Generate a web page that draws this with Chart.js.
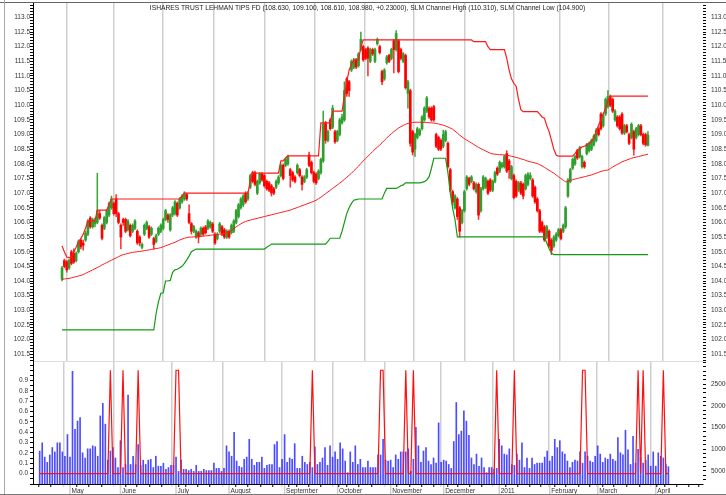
<!DOCTYPE html>
<html><head><meta charset="utf-8">
<script src="https://cdn.jsdelivr.net/npm/chart.js@4.4.0/dist/chart.umd.min.js"></script>
<style>
html,body{margin:0;padding:0;background:#fff;}
#wrap{position:relative;width:726px;height:495px;overflow:hidden;background:#fff;}
#top{position:absolute;left:0;top:0;}
#bot{position:absolute;left:0;top:362px;}
.frame{position:absolute;}
</style></head><body>
<div id="wrap">
<canvas id="top" width="726" height="362"></canvas>
<canvas id="bot" width="726" height="133"></canvas>
<div class="frame" style="left:0;top:2px;width:726px;height:1px;background:#666"></div>
<div class="frame" style="left:4px;top:0;width:1px;height:495px;background:#aaa"></div>
<div class="frame" style="left:0;top:494px;width:726px;height:1px;background:#777"></div>
</div>
<script>
const titleText = 'ISHARES TRUST LEHMAN TIPS FD (108.630, 109.100, 108.610, 108.980, +0.23000), SLM Channel High (110.310), SLM Channel Low (104.900)';

// trading days (categories); the April entries after the 8th are empty future slots
const tradingDays = [
 [2010,4,[15,16,19,20,21,22,23,26,27,28,29,30]],
 [2010,5,[3,4,5,6,7,10,11,12,13,14,17,18,19,20,21,24,25,26,27,28]],
 [2010,6,[1,2,3,4,7,8,9,10,11,14,15,16,17,18,21,22,23,24,25,28,29,30]],
 [2010,7,[1,2,6,7,8,9,12,13,14,15,16,19,20,21,22,23,26,27,28,29,30]],
 [2010,8,[2,3,4,5,6,9,10,11,12,13,16,17,18,19,20,23,24,25,26,27,30,31]],
 [2010,9,[1,2,3,7,8,9,10,13,14,15,16,17,20,21,22,23,24,27,28,29,30]],
 [2010,10,[1,4,5,6,7,8,11,12,13,14,15,18,19,20,21,22,25,26,27,28,29]],
 [2010,11,[1,2,3,4,5,8,9,10,11,12,15,16,17,18,19,22,23,24,26,29,30]],
 [2010,12,[1,2,3,6,7,8,9,10,13,14,15,16,17,20,21,22,23,27,28,29,30,31]],
 [2011,1,[3,4,5,6,7,10,11,12,13,14,18,19,20,21,24,25,26,27,28,31]],
 [2011,2,[1,2,3,4,7,8,9,10,11,14,15,16,17,18,22,23,24,25,28]],
 [2011,3,[1,2,3,4,7,8,9,10,11,14,15,16,17,18,21,22,23,24,25,28,29,30,31]],
 [2011,4,[1,4,5,6,7,8,11,12,13,14,15,18,19,20,21,25,26]]
];
const monthLabels = {5:'May',6:'June',7:'July',8:'August',9:'September',10:'October',11:'November',12:'December',1:'2011',2:'February',3:'March',4:'April'};

const open = [
104.06,104.7,104.66,104.45,105.0,104.95,104.7,105.0,105.4,105.3,
105.4,105.6,106.15,105.85,105.95,106.0,106.3,105.9,105.8,106.0,
106.25,106.5,106.65,106.8,106.3,105.9,106.1,106.1,105.75,105.9,
105.7,105.8,105.7,105.5,105.15,105.6,105.8,105.85,105.6,105.45,
105.35,105.6,105.7,105.8,106.1,106.25,105.75,106.26,106.3,106.65,
106.5,106.7,106.8,106.95,106.3,105.96,105.7,105.5,105.65,105.6,
105.8,105.85,105.8,105.85,105.95,105.6,105.45,105.7,105.85,105.75,
105.5,105.7,105.65,105.7,106.0,106.2,106.5,106.6,107.0,106.8,
107.2,107.7,107.7,107.0,107.35,107.65,107.6,107.4,107.35,107.25,
107.15,107.2,107.35,107.6,107.95,107.95,108.0,107.8,107.7,107.55,
107.7,107.8,107.55,107.4,107.55,108.3,108.05,107.7,107.65,107.5,
107.7,108.1,109.4,108.8,109.5,109.25,109.1,108.8,109.0,109.4,
109.5,110.9,110.8,111.2,111.3,111.55,111.35,111.9,112.0,111.9,
111.95,111.5,111.9,111.5,112.1,112.0,111.15,110.9,111.45,111.7,
111.6,112.2,111.9,112.2,111.9,111.5,111.7,110.4,110.5,109.1,
108.5,108.9,109.0,109.2,109.5,109.8,109.9,109.9,109.95,109.0,
108.9,108.8,108.6,108.8,108.7,107.8,107.05,106.5,106.8,106.5,
106.0,106.4,107.15,107.5,107.4,107.35,107.05,107.3,106.4,107.15,
107.2,107.4,107.45,107.1,107.4,107.85,107.75,107.9,107.9,108.35,
108.1,107.5,107.6,107.4,107.1,107.35,107.3,107.15,107.3,107.5,
107.45,107.2,106.8,106.4,106.0,105.85,105.5,105.7,105.4,105.2,
105.4,105.55,105.75,105.7,105.85,106.9,107.4,107.85,108.0,108.45,
108.25,107.9,108.05,108.35,108.45,108.5,108.65,108.8,109.2,109.7,
109.3,109.7,109.95,110.3,110.2,109.5,109.6,109.6,109.7,109.05,
109.3,109.0,108.9,109.1,108.9,109.0,109.3,109.0,109.0,108.63];
const close = [
104.44,104.5,104.38,104.7,104.6,104.65,104.95,105.34,105.17,105.22,
105.63,106.05,105.85,106.1,106.05,106.4,106.15,105.46,106.17,106.4,
106.65,106.8,106.3,106.3,106.0,105.5,106.0,105.7,106.05,105.55,
105.9,106.05,105.3,105.3,105.25,105.9,106.0,105.5,105.8,105.25,
105.55,105.8,105.9,106.1,106.4,106.1,106.26,106.5,106.7,106.25,
106.8,106.9,107.0,106.8,106.0,105.7,105.85,105.7,105.5,105.8,
105.6,105.65,106.05,106.0,105.7,105.3,105.6,105.95,105.6,105.5,
105.7,105.5,105.9,106.05,106.4,106.6,106.8,106.9,106.7,107.0,
107.6,107.4,107.3,107.4,107.65,107.45,107.25,107.15,107.1,107.0,
107.0,107.4,107.55,107.95,107.5,108.15,108.25,107.6,107.45,107.4,
107.95,107.6,107.3,107.55,107.8,107.95,107.7,107.4,107.35,107.75,
108.15,109.35,108.8,109.1,109.2,109.9,108.75,109.1,109.5,109.6,
110.5,110.4,110.5,111.5,111.55,111.3,111.75,112.25,111.55,111.6,
111.6,111.9,111.75,111.9,112.25,111.8,110.8,111.2,111.65,111.5,
111.9,111.9,112.45,111.15,111.6,111.75,110.6,110.8,108.7,108.4,
109.0,109.2,109.15,109.6,109.9,110.25,109.6,109.5,109.5,108.6,
108.5,108.5,109.0,109.1,107.9,107.1,106.7,106.9,106.2,105.7,
106.4,107.05,107.55,107.3,107.55,107.15,107.3,106.25,107.15,107.55,
107.5,107.0,107.1,107.4,107.7,107.65,108.05,108.0,108.25,107.75,
107.8,107.9,106.85,106.9,107.35,107.0,106.9,107.6,107.65,107.6,
106.9,106.7,106.4,105.7,105.7,105.4,105.85,105.2,105.05,105.5,
105.6,105.75,105.45,105.9,106.5,107.45,107.8,108.15,108.25,108.2,
108.55,108.25,107.9,108.65,108.7,108.8,108.95,109.15,109.0,109.2,
109.65,110.2,110.3,110.0,109.8,109.8,109.3,109.2,109.05,109.3,
109.1,108.7,109.35,108.5,109.2,109.3,109.0,108.7,108.65,108.98];
const high = [
104.5,104.75,104.7,104.75,105.05,105.1,105.0,105.4,105.45,105.4,
105.7,106.1,106.2,106.15,106.15,107.68,106.4,105.95,106.2,106.45,
106.7,106.9,106.7,106.95,106.35,105.95,106.15,106.15,106.1,105.95,
105.95,106.1,105.75,105.55,105.3,105.95,106.05,105.9,105.85,105.5,
105.6,105.85,105.95,106.15,106.45,106.3,106.3,106.55,106.75,106.7,
106.85,106.95,107.05,107.0,106.6,106.0,105.9,105.75,105.7,105.85,
105.85,105.9,106.1,106.05,106.0,105.65,105.65,106.0,105.9,105.8,
105.75,105.75,105.95,106.1,106.45,106.65,106.85,106.95,107.05,107.05,
107.65,107.75,107.75,107.45,107.7,107.7,107.65,107.45,107.4,107.3,
107.2,107.45,107.6,108.0,108.0,108.2,108.3,107.85,107.75,107.6,
108.0,107.85,107.6,107.6,107.85,108.4,108.1,107.75,107.7,107.8,
108.2,109.8,109.45,109.15,109.55,110.0,109.15,109.15,109.55,109.7,
110.8,110.95,110.85,111.55,111.6,111.6,111.8,112.5,112.05,111.95,
112.0,111.95,111.95,111.95,112.3,112.05,111.2,111.25,111.7,111.75,
111.95,112.25,112.55,112.25,111.95,111.8,111.75,110.85,110.55,109.15,
109.05,109.25,109.2,109.65,109.95,110.3,109.95,109.95,110.0,109.05,
108.95,108.85,109.15,109.15,108.75,107.85,107.1,106.95,106.85,106.55,
106.45,107.1,107.6,107.55,107.6,107.4,107.35,107.35,107.2,107.6,
107.55,107.45,107.5,107.45,107.75,107.9,108.1,108.05,108.3,108.45,
108.15,107.95,107.65,107.45,107.4,107.4,107.35,107.65,107.7,107.7,
107.5,107.25,106.85,106.45,106.05,105.9,105.9,105.75,105.45,105.55,
105.65,105.8,105.8,105.95,106.55,107.5,107.85,108.2,108.3,108.5,
108.6,108.3,108.1,108.7,108.75,108.85,109.0,109.2,109.25,109.75,
109.7,110.25,110.5,110.35,110.25,109.85,109.65,109.65,109.75,109.35,
109.35,109.05,109.4,109.15,109.25,109.35,109.35,109.05,109.05,109.1];
const low = [
104.0,104.45,104.3,104.4,104.55,104.6,104.65,104.95,105.1,105.05,
105.35,105.55,105.8,105.8,105.85,105.95,106.1,105.4,105.75,105.95,
106.2,106.45,106.25,106.2,105.95,105.1,105.9,105.65,105.7,105.5,
105.65,105.75,105.25,105.2,105.1,105.55,105.75,105.45,105.55,105.1,
105.3,105.55,105.65,105.75,106.05,106.0,105.7,106.2,106.25,106.2,
106.45,106.65,106.75,106.75,105.95,105.6,105.65,105.45,105.3,105.55,
105.55,105.6,105.75,105.8,105.65,105.25,105.4,105.65,105.55,105.45,
105.45,105.45,105.6,105.65,105.95,106.15,106.45,106.55,106.65,106.75,
107.15,107.35,107.25,106.95,107.3,107.4,107.2,107.1,107.05,106.9,
106.95,107.15,107.3,107.55,107.45,107.9,107.95,107.2,107.4,107.35,
107.65,107.55,107.1,107.35,107.5,107.9,107.65,107.35,107.3,107.45,
107.65,108.05,108.7,108.75,109.15,109.2,108.7,108.75,108.95,109.35,
109.45,110.3,110.3,111.15,111.25,111.25,111.3,111.85,111.5,111.55,
111.0,111.45,111.7,111.45,112.05,111.75,110.7,110.85,111.4,111.45,
111.55,111.1,111.85,111.1,111.55,111.45,110.55,109.9,108.6,108.3,
108.25,108.85,108.95,109.15,109.45,109.75,109.55,109.45,109.45,108.55,
108.45,108.45,108.55,108.75,107.85,107.05,106.6,106.45,106.1,105.5,
105.95,106.35,107.1,107.25,107.35,107.1,107.0,106.1,106.35,107.1,
107.15,106.95,107.05,107.05,107.35,107.6,107.7,107.85,107.85,107.7,
107.5,107.45,106.8,106.85,107.05,106.95,106.8,107.1,107.25,107.45,
106.85,106.65,106.35,105.65,105.65,105.35,105.45,105.15,104.9,105.15,
105.35,105.5,105.4,105.65,105.8,106.85,107.35,107.8,107.95,108.15,
108.2,107.85,107.85,108.3,108.4,108.45,108.6,108.75,108.95,109.15,
109.25,109.65,109.9,109.95,109.75,109.45,109.25,109.15,109.0,109.0,
109.05,108.65,108.85,108.3,108.85,108.95,108.95,108.65,108.6,108.61];

const channelHigh = [
105.2,105.0,104.82,104.8,104.8,105.0,105.15,105.35,105.45,105.6,
105.8,106.05,106.05,106.05,106.05,106.42,106.42,106.42,106.42,106.42,
106.6,106.8,106.8,106.8,106.8,106.8,106.8,106.8,106.8,106.8,
106.8,106.8,106.8,106.8,106.8,106.8,106.8,106.8,106.8,106.8,
106.8,106.8,106.8,106.8,106.8,106.8,106.8,106.8,106.8,106.8,
106.8,106.9,107.0,107.0,107.0,107.0,107.0,107.0,107.0,107.0,
107.0,107.0,107.0,107.0,107.0,107.0,107.0,107.0,107.0,107.0,
107.0,107.0,107.0,107.0,107.0,107.0,107.0,107.0,107.0,107.0,
107.4,107.68,107.68,107.68,107.68,107.68,107.68,107.68,107.68,107.68,
107.68,107.68,107.68,108.1,108.1,108.2,108.27,108.27,108.27,108.27,
108.27,108.27,108.27,108.27,108.27,108.27,108.27,108.27,108.27,108.27,
109.4,109.4,109.4,109.4,109.4,109.8,109.8,109.8,109.8,109.8,
110.3,110.8,111.2,111.4,111.54,111.54,111.54,112.0,112.23,112.23,
112.23,112.23,112.23,112.23,112.23,112.23,112.23,112.23,112.23,112.23,
112.23,112.23,112.23,112.23,112.23,112.23,112.23,112.23,112.23,112.23,
112.23,112.23,112.23,112.23,112.23,112.23,112.23,112.23,112.23,112.23,
112.23,112.23,112.23,112.23,112.23,112.23,112.23,112.23,112.23,112.23,
112.23,112.23,112.23,112.23,112.23,112.17,112.17,112.17,112.17,112.17,
112.17,112.0,111.9,111.9,111.9,111.9,111.9,111.9,111.9,111.6,
111.2,110.9,110.75,110.65,110.2,109.85,109.78,109.78,109.78,109.78,
109.78,109.78,109.78,109.7,109.6,109.56,109.3,109.1,108.8,108.5,
108.3,108.26,108.26,108.26,108.26,108.26,108.26,108.26,108.35,108.47,
108.5,108.58,108.6,108.65,108.7,108.75,108.9,109.1,109.32,109.5,
109.7,109.9,110.15,110.31,110.31,110.31,110.31,110.31,110.31,110.31,
110.31,110.31,110.31,110.31,110.31,110.31,110.31,110.31,110.31,110.31];
const channelLow = [
102.33,102.33,102.33,102.33,102.33,102.33,102.33,102.33,102.33,102.33,
102.33,102.33,102.33,102.33,102.33,102.33,102.33,102.33,102.33,102.33,
102.33,102.33,102.33,102.33,102.33,102.33,102.33,102.33,102.33,102.33,
102.33,102.33,102.33,102.33,102.33,102.33,102.33,102.33,102.33,102.33,
102.9,103.3,103.58,103.6,104.0,104.0,104.02,104.3,104.38,104.4,
104.45,104.5,104.6,104.72,104.85,105.0,105.05,105.09,105.09,105.09,
105.09,105.09,105.09,105.09,105.09,105.09,105.09,105.09,105.09,105.09,
105.09,105.09,105.09,105.09,105.09,105.09,105.09,105.09,105.09,105.09,
105.09,105.09,105.09,105.09,105.09,105.09,105.09,105.15,105.2,105.26,
105.26,105.26,105.26,105.26,105.26,105.26,105.26,105.26,105.26,105.26,
105.26,105.26,105.26,105.26,105.26,105.26,105.26,105.26,105.26,105.26,
105.26,105.26,105.26,105.35,105.46,105.46,105.46,105.46,105.46,105.7,
106.0,106.3,106.5,106.65,106.76,106.78,106.8,106.8,106.8,106.8,
106.8,106.8,106.8,106.8,106.8,106.8,106.8,107.0,107.16,107.16,
107.16,107.16,107.16,107.2,107.25,107.28,107.35,107.35,107.35,107.35,
107.35,107.35,107.35,107.37,107.39,107.45,107.56,107.85,108.19,108.19,
108.19,108.19,108.19,108.19,107.7,107.0,106.48,106.1,105.51,105.51,
105.51,105.51,105.51,105.51,105.51,105.51,105.51,105.51,105.51,105.51,
105.51,105.51,105.51,105.51,105.51,105.51,105.51,105.51,105.51,105.51,
105.51,105.51,105.51,105.51,105.51,105.51,105.51,105.51,105.51,105.51,
105.51,105.51,105.51,105.51,105.51,105.51,105.3,105.1,104.95,104.9,
104.9,104.9,104.9,104.9,104.9,104.9,104.9,104.9,104.9,104.9,
104.9,104.9,104.9,104.9,104.9,104.9,104.9,104.9,104.9,104.9,
104.9,104.9,104.9,104.9,104.9,104.9,104.9,104.9,104.9,104.9,
104.9,104.9,104.9,104.9,104.9,104.9,104.9,104.9,104.9,104.9];
const movingAvg = [
104.06,104.07,104.08,104.09,104.11,104.13,104.15,104.17,104.19,104.22,
104.26,104.3,104.34,104.38,104.42,104.46,104.5,104.55,104.59,104.63,
104.67,104.71,104.75,104.79,104.83,104.87,104.9,104.92,104.94,104.96,
104.98,104.99,105.0,105.01,105.02,105.04,105.05,105.06,105.08,105.09,
105.11,105.12,105.14,105.17,105.2,105.23,105.26,105.29,105.32,105.36,
105.4,105.43,105.46,105.48,105.5,105.5,105.51,105.51,105.52,105.52,
105.53,105.54,105.55,105.56,105.57,105.58,105.59,105.6,105.61,105.62,
105.64,105.68,105.73,105.79,105.85,105.9,105.95,106.0,106.03,106.06,
106.08,106.1,106.12,106.14,106.16,106.18,106.2,106.22,106.24,106.26,
106.28,106.3,106.32,106.34,106.36,106.38,106.4,106.42,106.45,106.48,
106.51,106.54,106.57,106.6,106.63,106.66,106.69,106.72,106.76,106.81,
106.86,106.92,106.98,107.04,107.1,107.16,107.22,107.28,107.34,107.4,
107.47,107.54,107.61,107.68,107.76,107.84,107.92,108.01,108.1,108.18,
108.26,108.34,108.42,108.5,108.57,108.64,108.72,108.8,108.88,108.96,
109.03,109.1,109.16,109.22,109.27,109.31,109.35,109.38,109.4,109.41,
109.42,109.42,109.42,109.42,109.41,109.41,109.4,109.4,109.39,109.38,
109.36,109.34,109.32,109.29,109.26,109.22,109.18,109.12,109.05,108.98,
108.92,108.86,108.81,108.76,108.71,108.66,108.61,108.56,108.52,108.48,
108.44,108.4,108.36,108.34,108.33,108.32,108.31,108.31,108.3,108.3,
108.28,108.26,108.24,108.22,108.2,108.17,108.15,108.12,108.09,108.07,
108.05,108.03,108.01,107.97,107.93,107.88,107.83,107.78,107.73,107.68,
107.62,107.56,107.5,107.44,107.39,107.4,107.43,107.46,107.48,107.5,
107.52,107.54,107.56,107.58,107.6,107.62,107.65,107.68,107.71,107.74,
107.76,107.78,107.79,107.84,107.89,107.94,107.98,108.02,108.07,108.1,
108.13,108.16,108.19,108.21,108.23,108.25,108.27,108.29,108.31,108.33];

const volume = [
9600,11500,8200,7000,8700,10400,9400,11500,11500,9400,
8400,13400,8200,28000,14600,16500,17300,9200,8000,10100,
10100,10800,10600,8400,17700,20600,15800,7500,9600,10400,
8000,5800,12000,5800,6500,22500,6500,8400,6500,11100,
6300,7500,6500,7500,7700,5800,8400,6100,6100,6800,
5400,5800,6300,6300,8200,4900,7500,5400,5400,5100,
5400,4900,6300,4900,4900,5400,5100,5100,5100,6800,
5600,5600,4900,5600,10800,9400,8400,13900,7300,6100,
5800,7700,8200,12300,7700,6300,7000,7000,8200,5600,
6300,6500,6500,11100,11800,5800,7700,13400,7000,8000,
7700,11300,5600,5600,8400,7000,6500,7000,5800,10600,
6500,7000,8000,10400,6300,10800,8200,9400,7700,11500,
10100,7300,4600,9400,7000,10800,6500,7700,5800,5800,
7300,5800,5800,5800,8700,8700,12300,7500,7300,7500,
5800,8700,7700,9400,9400,9400,10100,4900,7700,15100,
10800,7000,9600,10400,7300,6500,8000,6800,16100,7000,
7500,7300,6500,5600,11800,20800,13400,14200,18900,16500,
13200,8000,6500,8900,6100,8000,5800,4600,5800,5800,
5400,5600,12300,10800,8900,8700,10100,6500,6300,8900,
7500,11500,5800,8000,5600,8000,6500,6800,6800,6800,
8200,9600,7300,8400,12300,10400,12000,9400,8900,7300,
5800,7000,7500,7300,9400,6800,9400,8400,7300,7000,
8400,10800,8900,7000,8000,7700,8900,7700,7300,12700,
9200,8700,14400,9900,6500,13000,6800,10000,8000,6800,
7500,8700,6100,9400,6100,9200,8400,8000,6500,6000];

// bars at which the lower-panel signal line is at 1 (0 elsewhere)
const signalOnBars = [28,33,39,54,55,108,135,136,145,148,181,188,215,216,237,239,247];

const priceTickLabels = ['101.5','102.0','102.5','103.0','103.5','104.0','104.5','105.0','105.5','106.0','106.5','107.0','107.5','108.0','108.5','109.0','109.5','110.0','110.5','111.0','111.5','112.0','112.5','113.0'];
const signalTickLabels = ['0.0','0.1','0.2','0.3','0.4','0.5','0.6','0.7','0.8','0.9'];
const volumeTickLabels = ['5000','10000','15000','20000','25000'];

// ---------- build helpers ----------
const dates = [];
tradingDays.forEach(([y,m,days]) => days.forEach(d => dates.push({y,m,d,wd:new Date(Date.UTC(y,m-1,d)).getUTCDay()})));
const monthStartIdx = [], weekStartIdx = [];
dates.forEach((dt,i) => {
  if (i>0 && dt.m !== dates[i-1].m) monthStartIdx.push(i);
  if (i>0 && dt.wd < dates[i-1].wd) weekStartIdx.push(i);
});
const N = open.length;
const signal = open.map((_,i) => signalOnBars.includes(i) ? 1 : 0);
const isUp = open.map((o,i) => close[i] >= o);
const bodyColors = isUp.map(u => u ? '#2f9f2f' : '#ff0000');
const wickColors = isUp.map(u => u ? '#3aa83a' : '#ff3030');

const X_MIN = -0.47, X_MAX = 260.53;
const FONT = {family:'"Liberation Sans", Arial, sans-serif', size:6.5};
const TXT = '#333333';
function zeroPad(s){ s.paddingTop=0; s.paddingBottom=0; s.paddingLeft=0; s.paddingRight=0; }
function labelFor(list, v, dec){ const s = v.toFixed(dec); return list.includes(s) ? s : ''; }

Chart.defaults.font.family = FONT.family;
Chart.defaults.font.size = FONT.size;

const titlePlugin = {
  id:'titleInside',
  afterDraw(chart){
    const c = chart.ctx, a = chart.chartArea;
    c.save();
    c.font = '6.7px "Liberation Sans", Arial, sans-serif';
    c.fillStyle = '#222';
    c.textAlign = 'center'; c.textBaseline = 'middle';
    c.fillText(titleText, (a.left + a.right)/2 - 0.5, 8.5);
    c.restore();
  }
};

function priceAxis(pos){
  return {
    position: pos, min: 101.27, max: 113.49,
    afterBuildTicks(s){ const t=[]; for(let k=Math.ceil(s.min*10); k<=Math.floor(s.max*10); k++) t.push({value:k/10}); s.ticks=t; },
    ticks:{ autoSkip:false, color:TXT, font:FONT, padding: pos==='left'?0:5, callback:(v)=>labelFor(priceTickLabels, v, 1) },
    grid:{ drawOnChartArea:false, tickLength: 3, tickColor:'#000' },
    border:{ display: pos==='left', color:'#000' },
    afterFit(s){ s.width = pos==='left' ? 33 : 23; zeroPad(s); }
  };
}

new Chart(document.getElementById('top'), {
  type:'bar',
  data:{ datasets:[
    {type:'line', label:'SLM Channel High', data: channelHigh.map((v,i)=>({x:i,y:v})), borderColor:'#ff1a1a', borderWidth:1.2, pointRadius:0, yAxisID:'yR'},
    {type:'line', label:'SLM Channel Low', data: channelLow.map((v,i)=>({x:i,y:v})), borderColor:'#159a15', borderWidth:1.2, pointRadius:0, yAxisID:'yR'},
    {type:'line', label:'Average', data: movingAvg.map((v,i)=>({x:i,y:v})), borderColor:'#ff1a1a', borderWidth:1.0, pointRadius:0, yAxisID:'yR', tension:0.3},
    {type:'bar', label:'body', data: open.map((o,i)=>({x:i,y:[o,close[i]]})), backgroundColor: bodyColors, borderWidth:0, grouped:false, barPercentage:1, categoryPercentage:1, maxBarThickness:2, minBarLength:1, yAxisID:'yR'},
    {type:'bar', label:'wick', data: low.map((l,i)=>({x:i,y:[l,high[i]]})), backgroundColor: wickColors, borderWidth:0, grouped:false, barPercentage:1, categoryPercentage:1, maxBarThickness:0.9, yAxisID:'yR'}
  ]},
  options:{
    responsive:false, animation:false, devicePixelRatio:1,
    layout:{padding:{top:3,left:0,right:0,bottom:0}},
    plugins:{legend:{display:false}, tooltip:{enabled:false}},
    scales:{
      x:{ type:'linear', min:X_MIN, max:X_MAX,
          afterBuildTicks(s){ s.ticks = monthStartIdx.map(v=>({value:v})); },
          ticks:{display:false},
          grid:{color:'#cfcfcf', lineWidth:1.5, drawTicks:false},
          border:{display:true, color:'#dddddd'},
          afterFit(s){ s.height = 1; zeroPad(s); } },
      yL: priceAxis('left'),
      yR: priceAxis('right')
    }
  },
  plugins:[titlePlugin]
});

const monthLinesBelow = {
  id:'monthLinesBelow',
  beforeDraw(chart){
    const s = chart.scales.x, c = chart.ctx, a = chart.chartArea;
    c.save(); c.strokeStyle = '#cfcfcf'; c.lineWidth = 1.5;
    monthStartIdx.forEach(v => { const px = s.getPixelForValue(v); if (px > a.right) return; c.beginPath(); c.moveTo(px, a.bottom); c.lineTo(px, chart.height); c.stroke(); });
    c.restore();
  }
};

const bottomTicks = Array.from(new Set(monthStartIdx.concat(weekStartIdx))).sort((a,b)=>a-b);

new Chart(document.getElementById('bot'), {
  type:'bar',
  data:{ datasets:[
    {type:'line', label:'signal', data: signal.map((v,i)=>({x:i,y:v})), borderColor:'#ff1010', borderWidth:1.2, pointRadius:0, yAxisID:'yS'},
    {type:'bar', label:'volume', data: volume.map((v,i)=>({x:i,y:v})), backgroundColor:'rgba(30,30,255,0.8)', borderWidth:0, grouped:false, barPercentage:1, categoryPercentage:1, maxBarThickness:1, yAxisID:'yV'}
  ]},
  options:{
    responsive:false, animation:false, devicePixelRatio:1,
    layout:{padding:0},
    plugins:{legend:{display:false}, tooltip:{enabled:false}},
    scales:{
      x:{ type:'linear', min:X_MIN, max:X_MAX,
          afterBuildTicks(s){ s.ticks = bottomTicks.map(v=>({value:v})); },
          ticks:{ autoSkip:false, maxRotation:0, align:'start', labelOffset:1.5, padding:0, color:TXT, font:FONT,
                  callback:(v)=> monthStartIdx.includes(v) ? monthLabels[dates[v].m] : '' },
          grid:{ color:(ctx)=> (ctx.tick && monthStartIdx.includes(ctx.tick.value)) ? '#cfcfcf' : 'rgba(0,0,0,0)',
                 lineWidth:1.5, tickLength:3,
                 tickColor:(ctx)=> (ctx.tick && monthStartIdx.includes(ctx.tick.value)) ? '#cfcfcf' : '#000', tickWidth:1 },
          border:{display:true, color:'#000'},
          afterFit(s){ s.height = 11; zeroPad(s); } },
      yS:{ position:'left', min:-0.1, max:1.08,
          afterBuildTicks(s){ const t=[]; for(let k=-2;k<=21;k++) t.push({value:k*0.05}); s.ticks=t; },
          ticks:{ autoSkip:false, color:TXT, font:FONT, padding:2, callback:(v)=> Math.abs(v*10-Math.round(v*10))<1e-6 ? labelFor(signalTickLabels, v, 1) : '' },
          grid:{ drawOnChartArea:false, tickLength:3, tickColor:'#000' },
          border:{display:true, color:'#000'},
          afterFit(s){ s.width = 33; zeroPad(s); } },
      yV:{ position:'right', min:2000, max:30140,
          afterBuildTicks(s){ const t=[]; for(let k=3;k<=30;k++) t.push({value:k*1000}); s.ticks=t; },
          ticks:{ autoSkip:false, color:TXT, font:FONT, padding:5, callback:(v)=> volumeTickLabels.includes(String(Math.round(v))) ? String(Math.round(v)) : '' },
          grid:{ drawOnChartArea:false, tickLength:3, tickColor:'#000' },
          border:{display:false},
          afterFit(s){ s.width = 23; zeroPad(s); } }
    }
  },
  plugins:[monthLinesBelow]
});
</script>
</body></html>
